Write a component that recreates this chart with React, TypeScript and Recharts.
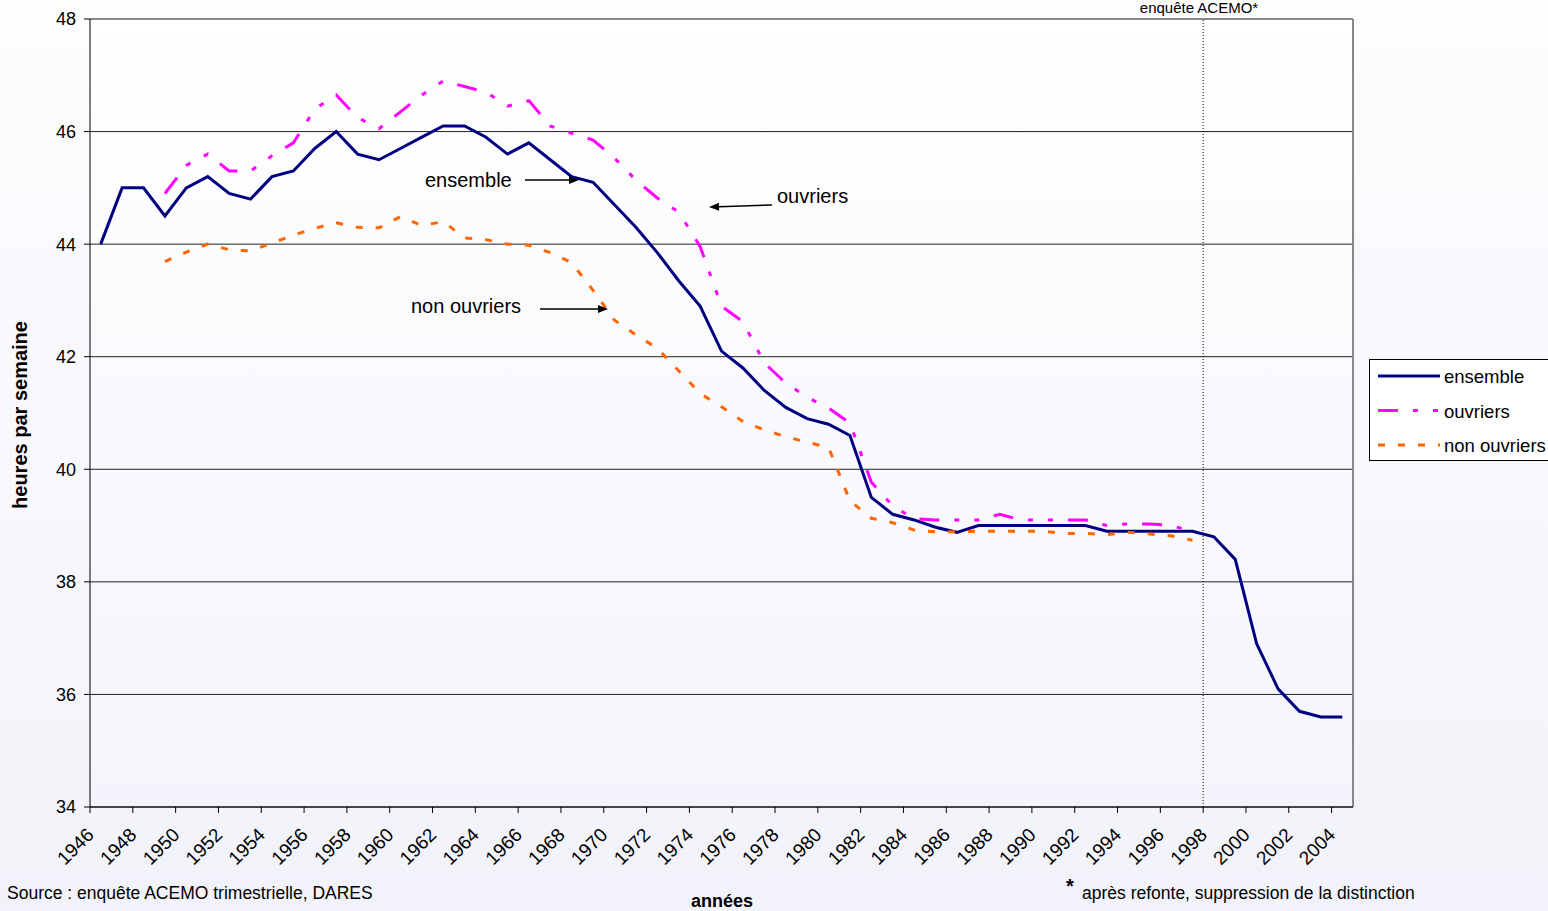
import React from 'react';
import { LineChart, Line, XAxis, YAxis, CartesianGrid, ReferenceLine, Legend } from 'recharts';

// weekly hours, one value per year (1946-2004)
const YEARS = [
  1946, 1947, 1948, 1949, 1950, 1951, 1952, 1953, 1954, 1955,
  1956, 1957, 1958, 1959, 1960, 1961, 1962, 1963, 1964, 1965,
  1966, 1967, 1968, 1969, 1970, 1971, 1972, 1973, 1974, 1975,
  1976, 1977, 1978, 1979, 1980, 1981, 1982, 1983, 1984, 1985,
  1986, 1987, 1988, 1989, 1990, 1991, 1992, 1993, 1994, 1995,
  1996, 1997, 1998, 1999, 2000, 2001, 2002, 2003, 2004,
];

const ENSEMBLE = [
  44.0, 45.0, 45.0, 44.5, 45.0, 45.2, 44.9, 44.8, 45.2, 45.3,
  45.7, 46.0, 45.6, 45.5, 45.7, 45.9, 46.1, 46.1, 45.9, 45.6,
  45.8, 45.5, 45.2, 45.1, 44.7, 44.3, 43.85, 43.35, 42.9, 42.1,
  41.8, 41.4, 41.1, 40.9, 40.8, 40.6, 39.5, 39.2, 39.1, 38.97,
  38.88, 39.0, 39.0, 39.0, 39.0, 39.0, 39.0, 38.9, 38.9, 38.9,
  38.9, 38.9, 38.8, 38.4, 36.9, 36.1, 35.7, 35.6, 35.6,
];

const OUVRIERS = [
  null, null, null,
  44.9, 45.4, 45.6, 45.3, 45.3, 45.57, 45.8, 46.4, 46.65, 46.25,
  46.05, 46.35, 46.65, 46.9, 46.8, 46.7, 46.45, 46.55, 46.1, 45.97,
  45.85, 45.53, 45.14, 44.82, 44.57, 43.96, 42.9, 42.62, 41.89, 41.53,
  41.28, 41.09, 40.82, 39.77, 39.35, 39.12, 39.1, 39.1, 39.1, 39.2,
  39.1, 39.1, 39.1, 39.1, 39.0, 39.03, 39.03, 39.0, 38.9,
  null, null, null, null, null, null, null,
];

const NON_OUVRIERS = [
  null, null, null,
  43.69, 43.86, 44.0, 43.9, 43.88, 44.02, 44.16, 44.28, 44.38, 44.3,
  44.29, 44.49, 44.33, 44.4, 44.11, 44.08, 44.0, 43.98, 43.85, 43.67,
  43.18, 42.65, 42.39, 42.15, 41.75, 41.35, 41.11, 40.85, 40.7, 40.58,
  40.48, 40.39, 39.44, 39.13, 39.05, 38.92, 38.89, 38.89, 38.9, 38.9,
  38.9, 38.9, 38.86, 38.86, 38.84, 38.88, 38.85, 38.82, 38.74,
  null, null, null, null, null, null, null,
];

const Y_TICKS = [34, 36, 38, 40, 42, 44, 46, 48];
const X_TICK_LABELS = [
  '1946', '1948', '1950', '1952', '1954', '1956', '1958', '1960', '1962', '1964',
  '1966', '1968', '1970', '1972', '1974', '1976', '1978', '1980', '1982', '1984',
  '1986', '1988', '1990', '1992', '1994', '1996', '1998', '2000', '2002', '2004',
];
// new ACEMO survey starts after 1997
const SURVEY_BREAK = 1997.5;

const data = YEARS.map((year, i) => ({
  year,
  ensemble: ENSEMBLE[i],
  ouvriers: OUVRIERS[i],
  nonOuvriers: NON_OUVRIERS[i],
}));

// tick marks sit on the boundary before each labelled year
const xTicks = X_TICK_LABELS.map((l) => Number(l) - 0.5);

const FONT = '"Liberation Sans", Arial, sans-serif';

const SERIES = [
  { key: 'ensemble', name: 'ensemble', color: '#000080', dash: undefined },
  { key: 'ouvriers', name: 'ouvriers', color: '#FF00FF', dash: '20 15 5 15 5 15' },
  { key: 'nonOuvriers', name: 'non ouvriers', color: '#FF6600', dash: '7 13' },
];

const XTick = (props: any) => {
  const { x, y, payload } = props;
  return (
    <g transform={`translate(${x},${y})`}>
      <text
        x={5}
        y={21}
        textAnchor="end"
        transform="rotate(-45 5 21)"
        fontFamily={FONT}
        fontSize={19}
        fill="#000"
      >
        {String(payload.value + 0.5)}
      </text>
    </g>
  );
};

const LegendBox = () => (
  <div
    style={{
      width: 200,
      height: 102,
      background: '#fff',
      border: '1px solid #000',
      boxSizing: 'border-box',
    }}
  >
    <svg width={200} height={102}>
      {SERIES.map((s, i) => (
        <g key={s.key}>
          <line
            x1={8}
            x2={70}
            y1={16 + i * 34.5}
            y2={16 + i * 34.5}
            stroke={s.color}
            strokeWidth={3}
            strokeDasharray={s.dash}
          />
          <text x={74} y={23 + i * 34.5} fontFamily={FONT} fontSize={18.5} fill="#000">
            {s.name}
          </text>
        </g>
      ))}
    </svg>
  </div>
);

const Arrow = ({ x1, y1, x2, y2 }: { x1: number; y1: number; x2: number; y2: number }) => {
  const ang = Math.atan2(y2 - y1, x2 - x1);
  const len = 10;
  const w = 4;
  const bx = x2 - len * Math.cos(ang);
  const by = y2 - len * Math.sin(ang);
  const px = -Math.sin(ang) * w;
  const py = Math.cos(ang) * w;
  return (
    <g>
      <line x1={x1} y1={y1} x2={bx} y2={by} stroke="#000" strokeWidth={1.5} />
      <polygon points={`${x2},${y2} ${bx + px},${by + py} ${bx - px},${by - py}`} fill="#000" />
    </g>
  );
};

export default function App() {
  return (
    <div
      style={{
        position: 'absolute',
        left: 0,
        top: 0,
        width: 1548,
        height: 911,
        overflow: 'hidden',
        background: 'linear-gradient(#fdfdff, #f2f2fa)',
      }}
    >
      <LineChart width={1548} height={911} data={data} margin={{ top: 19, right: 195, bottom: 0, left: 0 }}>
        <defs>
          <linearGradient id="plotBg" x1="0" y1="0" x2="0" y2="1">
            <stop offset="0%" stopColor="#ffffff" />
            <stop offset="100%" stopColor="#f4f4fc" />
          </linearGradient>
        </defs>
        <CartesianGrid vertical={false} stroke="#222" fill="url(#plotBg)" fillOpacity={1} />
        <XAxis
          dataKey="year"
          type="number"
          domain={[1945.5, 2004.5]}
          ticks={xTicks}
          interval={0}
          height={104}
          axisLine={{ stroke: '#000' }}
          tickLine={{ stroke: '#000' }}
          tickSize={6}
          tick={<XTick />}
        />
        <YAxis
          domain={[34, 48]}
          ticks={Y_TICKS}
          width={90}
          axisLine={{ stroke: '#000' }}
          tickLine={{ stroke: '#000' }}
          tickSize={6}
          tickMargin={8}
          tick={{ fontFamily: FONT, fontSize: 18, fill: '#000' }}
        />
        <ReferenceLine y={48} stroke="#888" strokeWidth={2} />
        <ReferenceLine x={2004.5} stroke="#888" strokeWidth={2} />
        <ReferenceLine x={SURVEY_BREAK} stroke="#000" strokeDasharray="1 2" />
        <Legend
          layout="vertical"
          align="center"
          verticalAlign="middle"
          wrapperStyle={{ left: 1369, top: 359, width: 200, height: 102 }}
          content={() => <LegendBox />}
        />
        {SERIES.map((s) => (
          <Line
            key={s.key}
            type="linear"
            dataKey={s.key}
            name={s.name}
            stroke={s.color}
            strokeWidth={3}
            strokeDasharray={s.dash}
            dot={false}
            activeDot={false}
            isAnimationActive={false}
          />
        ))}
      </LineChart>
      <svg
        width={1548}
        height={911}
        style={{ position: 'absolute', left: 0, top: 0, pointerEvents: 'none' }}
        fontFamily={FONT}
      >
        <text x={1199} y={13} textAnchor="middle" fontSize={15}>enquête ACEMO*</text>
        <text x={425} y={187} fontSize={20}>ensemble</text>
        <Arrow x1={525} y1={180} x2={579} y2={180} />
        <text x={777} y={203} fontSize={20}>ouvriers</text>
        <Arrow x1={772} y1={205} x2={709} y2={207} />
        <text x={411} y={313} fontSize={20}>non ouvriers</text>
        <Arrow x1={540} y1={309} x2={608} y2={309} />
        <text
          x={0}
          y={0}
          transform="translate(27 415) rotate(-90)"
          textAnchor="middle"
          fontSize={20}
          fontWeight="bold"
        >
          heures par semaine
        </text>
        <text x={722} y={907} textAnchor="middle" fontSize={18} fontWeight="bold">années</text>
        <text x={7} y={899} fontSize={17.5}>Source : enquête ACEMO trimestrielle, DARES</text>
        <text x={1066} y={893} fontSize={20} fontWeight="bold">*</text>
        <text x={1082} y={899} fontSize={17.5}>après refonte, suppression de la distinction</text>
      </svg>
    </div>
  );
}
